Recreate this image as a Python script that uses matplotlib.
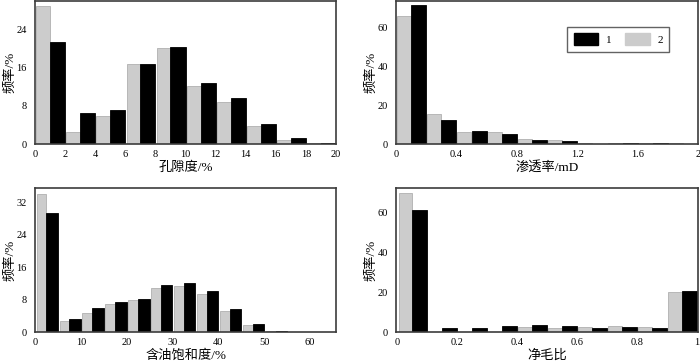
import matplotlib
matplotlib.use("Agg")
import matplotlib.pyplot as plt
import matplotlib.patches as mpatches
import numpy as np

plt.rcParams['font.family'] = ['Liberation Serif', 'Noto Sans CJK SC']

# porosity, bins of 2 %
por_gray = [28.9, 2.6, 5.8, 16.8, 20.0, 12.2, 8.8, 3.7, 0.9, 0.2]
por_black = [21.4, 6.5, 7.1, 16.8, 20.2, 12.7, 9.6, 4.1, 1.25, 0.3]
# permeability, bins of 0.2 mD
perm_gray = [66.3, 15.6, 6.3, 6.0, 2.6, 2.1, 0.3, 0.5, 0.5, 0.3]
perm_black = [71.7, 12.3, 6.5, 5.3, 2.2, 1.5, 0.2, 0.5, 0.5, 0.0]
# oil saturation, bins of 5 %
so_gray = [34.1, 2.8, 4.7, 7.0, 8.0, 10.9, 11.3, 9.5, 5.2, 1.7, 0.25, 0.1, 0.1]
so_black = [29.3, 3.2, 5.9, 7.4, 8.2, 11.5, 12.1, 10.2, 5.6, 1.9, 0.2, 0.1, 0.1]
# net to gross, bins of 0.1
ntg_gray = [69.5, 0.0, 0.0, 0.0, 2.3, 2.2, 2.3, 2.8, 2.7, 19.9]
ntg_black = [61.0, 2.2, 2.2, 2.8, 3.4, 3.2, 1.8, 2.3, 2.2, 20.3]

GRAY = '#cccccc'
SPINE = '#3c3c3c'

fig = plt.figure(figsize=(7.0, 3.62), dpi=100)
W, H = 700.0, 362.0


def make_ax(x0, x1, y0, y1):
    return fig.add_axes([x0 / W, 1 - y1 / H, (x1 - x0) / W, (y1 - y0) / H])


def draw(ax, gray, black, step, pad, xlim, ylim, xticks, xticklabels, yticks, xlabel):
    n = len(gray)
    left = np.arange(n) * step
    bw = step / 2 - pad
    ax.bar(left + pad, gray, width=bw, align='edge', color=GRAY, edgecolor='#b0b0b0', linewidth=0.6)
    ax.bar(left + step / 2, black, width=step / 2, align='edge', color='black', edgecolor='black', linewidth=0.6)
    ax.set_xlim(*xlim)
    ax.set_ylim(*ylim)
    ax.set_xticks(xticks)
    ax.set_xticklabels(xticklabels)
    ax.set_yticks(yticks)
    ax.tick_params(axis='x', length=0, labelsize=7.5, pad=4)
    ax.tick_params(axis='y', length=0, labelsize=7.5, pad=6)
    for s in ax.spines.values():
        s.set_color(SPINE)
        s.set_linewidth(1.2)
    ax.set_xlabel(xlabel, fontsize=9.5, labelpad=2)
    ax.set_ylabel('频率/%', fontsize=9.5, labelpad=0)


ax1 = make_ax(35, 336, 1, 144)
draw(ax1, por_gray, por_black, 2, 0.08, (0, 20), (0, 29.9),
     range(0, 21, 2), [str(v) for v in range(0, 21, 2)], [0, 8, 16, 24], '孔隙度/%')

ax2 = make_ax(396, 698, 1, 144)
draw(ax2, perm_gray, perm_black, 0.2, 0.005, (0, 2), (0, 73.8),
     [0, 0.4, 0.8, 1.2, 1.6, 2], ['0', '0.4', '0.8', '1.2', '1.6', '2'], [0, 20, 40, 60], '渗透率/mD')
handles = [mpatches.Patch(facecolor='black', edgecolor='black'),
           mpatches.Patch(facecolor=GRAY, edgecolor=GRAY)]
leg = ax2.legend(handles, ['1', '2'], ncol=2, loc='upper right',
                 bbox_to_anchor=((675 - 396) / 302, 1 - 20 / 143), fancybox=False,
                 edgecolor=SPINE, fontsize=8, handlelength=2.2, handleheight=1.3,
                 columnspacing=1.2, handletextpad=0.7, borderpad=0.6)
leg.get_frame().set_linewidth(1.0)

ax3 = make_ax(35, 336, 188, 332)
draw(ax3, so_gray, so_black, 5, 0.35, (0, 65.7), (0, 35.6),
     range(0, 61, 10), [str(v) for v in range(0, 61, 10)], [0, 8, 16, 24, 32], '含油饱和度/%')

ax4 = make_ax(396, 698, 188, 332)
draw(ax4, ntg_gray, ntg_black, 0.1, 0.004, (-0.005, 1.004), (0, 72),
     [0, 0.2, 0.4, 0.6, 0.8, 1], ['0', '0.2', '0.4', '0.6', '0.8', '1'], [0, 20, 40, 60], '净毛比')

fig.savefig('out.png', dpi=100)
